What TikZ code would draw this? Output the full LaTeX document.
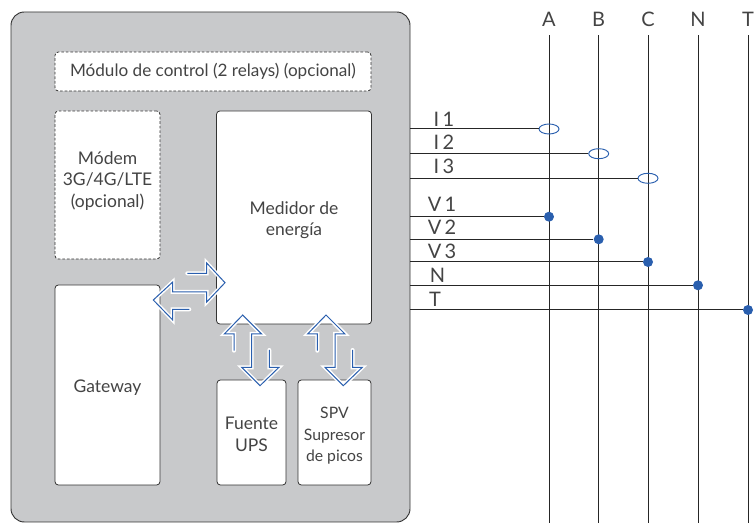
\documentclass[tikz,border=0pt]{standalone}
\usepackage{fontspec}
\setmainfont{Lato}
\usetikzlibrary{shapes.geometric}
\definecolor{cuerpo}{HTML}{C8C9CB}
\definecolor{azul}{HTML}{2A5FAE}
\definecolor{tinta}{HTML}{333333}
\definecolor{letra}{HTML}{444444}
\tikzset{
    modulo/.style={draw=tinta,fill=white,line width=.6pt,rounded corners=2.5pt,inner sep=0pt},
    opcional/.style={modulo,dash pattern=on 2pt off 1.4pt},
    letrero/.style={inner sep=0pt,align=center,text=letra,font=\fontsize{13.1}{16.2}\selectfont},
    fase/.style={inner sep=0pt,minimum height=24pt,text=letra,font=\fontsize{15}{17}\selectfont},
    etiqueta/.style={inner sep=0pt,text=letra,font=\fontsize{15}{17}\selectfont},
    cable/.style={draw=black!85,line width=.75pt},
    pinza/.style={ellipse,draw=azul,line width=.7pt,minimum width=15pt,minimum height=7.5pt,inner sep=0pt},
    punto/.style={circle,fill=azul,minimum size=7.5pt,inner sep=0pt},
    flecha/.style={draw=azul,line width=.75pt,line join=miter,preaction={draw=white,line width=3pt,line cap=round}}
}
\begin{document}
\begin{tikzpicture}[x=.75pt,y=-.75pt]
    \useasboundingbox (0,0) rectangle (754,523);

    % gabinete
    \node[draw=tinta,fill=cuerpo,line width=.7pt,rounded corners=10pt,minimum width=299.25pt,minimum height=382.5pt,inner sep=0pt] (gabinete) at (210.5,267) {};

    \node[opcional,minimum width=237pt,minimum height=29.25pt,letrero,draw=tinta,font=\fontsize{12.85}{15}\selectfont] (control) at (213,71.5) {M\'odulo de control (2 relays) (opcional)};
    \node[opcional,minimum width=78.75pt,minimum height=111pt] (modem) at (107.5,185) {};
    \node[modulo,minimum width=116.25pt,minimum height=159.75pt] (medidor) at (294,217.5) {};
    \node[modulo,minimum width=78.75pt,minimum height=150pt] (gateway) at (107.5,385) {};
    \node[modulo,minimum width=51.75pt,minimum height=78.75pt] (fuente) at (251.5,432.5) {};
    \node[modulo,minimum width=54.75pt,minimum height=78.75pt] (spv) at (334.5,432.5) {};

    \node[letrero] (tmodem) at ([yshift=3pt]modem.center) {M\'odem\\3G/4G/LTE\\(opcional)};
    \node[letrero] (tmedidor) at ([yshift=-1.9pt]medidor.center) {Medidor de\\energ\'ia};
    \node[letrero] (tgateway) at ([yshift=-2.2pt]gateway.center) {Gateway};
    \node[letrero] (tfuente) at ([yshift=-1.5pt]fuente.center) {Fuente\\UPS};
    \node[letrero,font=\fontsize{11.8}{16}\selectfont] (tspv) at ([yshift=-2.6pt]spv.center) {SPV\\Supresor\\de picos};

    % flechas dobles
    \draw[flecha] (187.3,273.3) -- (206.7,273.3) -- (206.7,263) -- (225,282.7) -- (206.7,302) -- (206.7,292) -- (172.7,292) -- (172.7,282) -- (153.3,300) -- (172.7,320) -- (172.7,309.3) -- (189.3,309.3);
    \foreach \dx in {0,83.3}
        \draw[flecha,xshift=\dx*.75pt] (234,350.7) -- (234,334) -- (224.3,334) -- (242.7,315) -- (261.7,334) -- (251.7,334) -- (251.7,367.3) -- (241.7,367.3) -- (260,385.7) -- (279,367.3) -- (269.3,367.3) -- (269.3,350);

    % fases
    \foreach \name/\posx in {A/549,B/598.7,C/648,N/698,T/748}{
        \node[fase] (f\name) at (\posx,19) {\name};
        \coordinate (b\name) at (\posx,523);
        \draw[cable] (f\name) -- (b\name);
    }

    % pinzas de corriente
    \foreach \name/\posx/\posy/\txt/\lx/\ly in {ia/549/129/I\,1/444/119,ib/598.7/153.7/I\,2/444/142.5,ic/648/178.3/I\,3/444/166.5}{
        \node[pinza] (\name) at (\posx,\posy) {};
        \coordinate (s\name) at (gabinete.east |- \name);
        \draw[cable] (s\name) -- (\name);
        \node[etiqueta] (t\name) at (\lx,\ly) {\txt};
    }

    % tensiones, neutro y tierra
    \foreach \name/\posx/\posy/\txt/\lx/\ly in {va/549/216.7/V\,1/442/204,vb/598.7/239.3/V\,2/442/227.5,vc/648/262/V\,3/442/251.5,vn/698/285.3/N/437.5/275,vt/748/310/T/435/299.5}{
        \node[punto] (\name) at (\posx,\posy) {};
        \coordinate (s\name) at (gabinete.east |- \name);
        \draw[cable] (s\name) -- (\name);
        \node[etiqueta] (t\name) at (\lx,\ly) {\txt};
    }
\end{tikzpicture}
\end{document}
